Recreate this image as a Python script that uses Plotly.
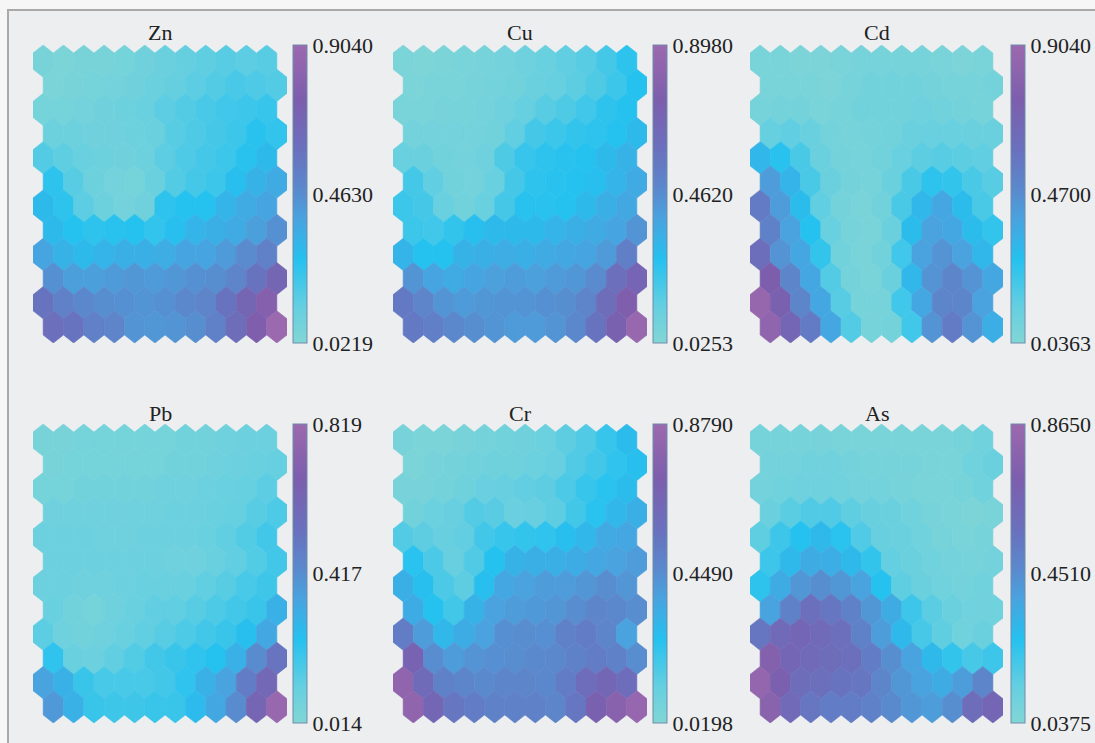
import plotly.graph_objects as go
from plotly.colors import sample_colorscale

W, H = 1095, 743

# ---------------- data (12 x 12 SOM component planes, top row first) ----------------
elements = ["Zn", "Cu", "Cd", "Pb", "Cr", "As"]
cbar_min = [0.0219, 0.0253, 0.0363, 0.014, 0.0198, 0.0375]
cbar_mid = [0.4630, 0.4620, 0.4700, 0.417, 0.4490, 0.4510]
cbar_max = [0.9040, 0.8980, 0.9040, 0.819, 0.8790, 0.8650]
tick_text = [["0.0219", "0.4630", "0.9040"],
             ["0.0253", "0.4620", "0.8980"],
             ["0.0363", "0.4700", "0.9040"],
             ["0.014", "0.417", "0.819"],
             ["0.0198", "0.4490", "0.8790"],
             ["0.0375", "0.4510", "0.8650"]]

zn = [
    [0.06, 0.05, 0.06, 0.06, 0.07, 0.09, 0.11, 0.13, 0.14, 0.16, 0.15, 0.16],
    [0.05, 0.06, 0.07, 0.08, 0.09, 0.11, 0.13, 0.15, 0.17, 0.19, 0.18, 0.17],
    [0.07, 0.07, 0.08, 0.09, 0.10, 0.12, 0.15, 0.17, 0.19, 0.21, 0.22, 0.23],
    [0.10, 0.10, 0.09, 0.09, 0.10, 0.11, 0.16, 0.18, 0.20, 0.22, 0.26, 0.24],
    [0.17, 0.14, 0.12, 0.10, 0.09, 0.10, 0.15, 0.18, 0.20, 0.22, 0.26, 0.30],
    [0.25, 0.16, 0.10, 0.08, 0.07, 0.11, 0.17, 0.20, 0.22, 0.28, 0.33, 0.36],
    [0.30, 0.25, 0.15, 0.10, 0.08, 0.09, 0.25, 0.27, 0.27, 0.32, 0.36, 0.38],
    [0.30, 0.27, 0.25, 0.26, 0.27, 0.24, 0.28, 0.32, 0.34, 0.36, 0.40, 0.45],
    [0.38, 0.33, 0.30, 0.32, 0.34, 0.34, 0.35, 0.38, 0.38, 0.42, 0.47, 0.52],
    [0.45, 0.40, 0.40, 0.42, 0.43, 0.42, 0.43, 0.45, 0.46, 0.50, 0.58, 0.68],
    [0.58, 0.52, 0.48, 0.46, 0.45, 0.44, 0.45, 0.48, 0.50, 0.58, 0.68, 0.78],
    [0.60, 0.58, 0.52, 0.50, 0.44, 0.43, 0.44, 0.46, 0.52, 0.62, 0.75, 0.90],
]
cu = [
    [0.05, 0.04, 0.05, 0.06, 0.07, 0.08, 0.10, 0.12, 0.14, 0.16, 0.20, 0.25],
    [0.05, 0.06, 0.06, 0.07, 0.08, 0.09, 0.11, 0.13, 0.15, 0.18, 0.22, 0.27],
    [0.06, 0.06, 0.07, 0.07, 0.08, 0.10, 0.13, 0.16, 0.18, 0.21, 0.25, 0.27],
    [0.08, 0.08, 0.08, 0.08, 0.09, 0.14, 0.20, 0.22, 0.24, 0.25, 0.27, 0.30],
    [0.12, 0.11, 0.09, 0.08, 0.10, 0.18, 0.23, 0.25, 0.26, 0.27, 0.30, 0.33],
    [0.20, 0.14, 0.09, 0.08, 0.12, 0.20, 0.25, 0.26, 0.27, 0.28, 0.32, 0.36],
    [0.22, 0.20, 0.12, 0.09, 0.12, 0.20, 0.26, 0.26, 0.27, 0.30, 0.34, 0.37],
    [0.22, 0.21, 0.24, 0.28, 0.30, 0.30, 0.30, 0.32, 0.34, 0.36, 0.38, 0.44],
    [0.32, 0.27, 0.27, 0.33, 0.34, 0.35, 0.34, 0.36, 0.37, 0.38, 0.42, 0.52],
    [0.44, 0.38, 0.36, 0.38, 0.40, 0.41, 0.40, 0.42, 0.43, 0.47, 0.60, 0.68],
    [0.55, 0.50, 0.44, 0.42, 0.43, 0.44, 0.44, 0.45, 0.46, 0.50, 0.62, 0.75],
    [0.55, 0.52, 0.48, 0.46, 0.44, 0.42, 0.42, 0.44, 0.48, 0.58, 0.72, 0.88],
]
cd = [
    [0.07, 0.07, 0.06, 0.06, 0.07, 0.08, 0.08, 0.08, 0.08, 0.07, 0.06, 0.07],
    [0.07, 0.07, 0.07, 0.06, 0.08, 0.10, 0.10, 0.10, 0.09, 0.08, 0.08, 0.09],
    [0.08, 0.09, 0.09, 0.07, 0.08, 0.10, 0.10, 0.10, 0.11, 0.10, 0.09, 0.08],
    [0.14, 0.15, 0.13, 0.09, 0.08, 0.09, 0.10, 0.12, 0.13, 0.13, 0.12, 0.12],
    [0.32, 0.27, 0.20, 0.12, 0.09, 0.08, 0.10, 0.13, 0.16, 0.17, 0.16, 0.15],
    [0.42, 0.33, 0.20, 0.12, 0.09, 0.08, 0.12, 0.20, 0.26, 0.25, 0.20, 0.17],
    [0.55, 0.42, 0.30, 0.15, 0.09, 0.07, 0.10, 0.20, 0.32, 0.38, 0.30, 0.20],
    [0.52, 0.40, 0.28, 0.13, 0.08, 0.07, 0.12, 0.30, 0.40, 0.38, 0.30, 0.25],
    [0.62, 0.45, 0.38, 0.25, 0.10, 0.07, 0.10, 0.22, 0.40, 0.45, 0.40, 0.32],
    [0.75, 0.50, 0.38, 0.18, 0.09, 0.07, 0.12, 0.32, 0.45, 0.50, 0.45, 0.38],
    [0.88, 0.72, 0.50, 0.38, 0.17, 0.08, 0.08, 0.22, 0.38, 0.50, 0.50, 0.40],
    [0.85, 0.68, 0.55, 0.38, 0.18, 0.08, 0.09, 0.22, 0.45, 0.55, 0.45, 0.35],
]
pb = [
    [0.05, 0.05, 0.06, 0.06, 0.06, 0.06, 0.06, 0.07, 0.07, 0.08, 0.09, 0.09],
    [0.05, 0.06, 0.06, 0.06, 0.06, 0.06, 0.07, 0.07, 0.08, 0.09, 0.10, 0.11],
    [0.06, 0.06, 0.07, 0.07, 0.07, 0.07, 0.08, 0.08, 0.09, 0.10, 0.11, 0.13],
    [0.08, 0.08, 0.08, 0.08, 0.08, 0.08, 0.09, 0.09, 0.10, 0.11, 0.14, 0.16],
    [0.09, 0.09, 0.09, 0.08, 0.08, 0.09, 0.09, 0.09, 0.10, 0.12, 0.15, 0.18],
    [0.09, 0.09, 0.09, 0.09, 0.09, 0.09, 0.08, 0.08, 0.10, 0.12, 0.15, 0.18],
    [0.09, 0.09, 0.08, 0.08, 0.09, 0.10, 0.10, 0.10, 0.12, 0.14, 0.17, 0.19],
    [0.10, 0.07, 0.06, 0.08, 0.10, 0.12, 0.12, 0.14, 0.16, 0.18, 0.20, 0.30],
    [0.13, 0.08, 0.07, 0.08, 0.10, 0.12, 0.14, 0.16, 0.18, 0.20, 0.25, 0.33],
    [0.22, 0.10, 0.09, 0.12, 0.15, 0.18, 0.20, 0.22, 0.24, 0.30, 0.42, 0.52],
    [0.35, 0.30, 0.20, 0.17, 0.17, 0.17, 0.18, 0.22, 0.30, 0.35, 0.48, 0.60],
    [0.38, 0.30, 0.20, 0.19, 0.19, 0.20, 0.20, 0.26, 0.33, 0.42, 0.62, 0.80],
]
cr = [
    [0.06, 0.05, 0.05, 0.06, 0.07, 0.08, 0.09, 0.10, 0.14, 0.17, 0.22, 0.28],
    [0.05, 0.06, 0.07, 0.08, 0.09, 0.09, 0.10, 0.12, 0.17, 0.20, 0.24, 0.27],
    [0.06, 0.06, 0.07, 0.09, 0.11, 0.12, 0.13, 0.14, 0.18, 0.22, 0.25, 0.28],
    [0.08, 0.10, 0.12, 0.16, 0.15, 0.11, 0.12, 0.14, 0.20, 0.25, 0.30, 0.33],
    [0.16, 0.14, 0.12, 0.13, 0.20, 0.22, 0.23, 0.24, 0.27, 0.30, 0.35, 0.36],
    [0.25, 0.18, 0.12, 0.17, 0.26, 0.32, 0.33, 0.33, 0.34, 0.36, 0.38, 0.40],
    [0.33, 0.27, 0.18, 0.14, 0.27, 0.36, 0.38, 0.40, 0.40, 0.42, 0.45, 0.42],
    [0.34, 0.26, 0.20, 0.32, 0.38, 0.40, 0.41, 0.42, 0.45, 0.48, 0.47, 0.45],
    [0.52, 0.40, 0.30, 0.34, 0.38, 0.44, 0.45, 0.44, 0.50, 0.52, 0.48, 0.38],
    [0.68, 0.45, 0.40, 0.43, 0.44, 0.45, 0.46, 0.47, 0.50, 0.52, 0.50, 0.45],
    [0.82, 0.62, 0.50, 0.48, 0.46, 0.48, 0.48, 0.47, 0.52, 0.60, 0.65, 0.60],
    [0.82, 0.65, 0.55, 0.52, 0.50, 0.50, 0.50, 0.48, 0.55, 0.70, 0.78, 0.85],
]
as_ = [
    [0.08, 0.08, 0.08, 0.08, 0.07, 0.07, 0.07, 0.07, 0.07, 0.07, 0.08, 0.10],
    [0.09, 0.09, 0.10, 0.10, 0.09, 0.08, 0.08, 0.08, 0.07, 0.07, 0.10, 0.12],
    [0.09, 0.10, 0.11, 0.11, 0.10, 0.09, 0.09, 0.08, 0.07, 0.07, 0.08, 0.10],
    [0.12, 0.16, 0.18, 0.18, 0.15, 0.13, 0.12, 0.10, 0.08, 0.07, 0.06, 0.07],
    [0.15, 0.22, 0.27, 0.30, 0.26, 0.18, 0.13, 0.12, 0.10, 0.08, 0.07, 0.08],
    [0.22, 0.30, 0.35, 0.34, 0.30, 0.24, 0.14, 0.12, 0.10, 0.09, 0.08, 0.09],
    [0.25, 0.35, 0.42, 0.45, 0.42, 0.38, 0.27, 0.15, 0.12, 0.10, 0.09, 0.10],
    [0.38, 0.50, 0.58, 0.55, 0.50, 0.42, 0.35, 0.22, 0.16, 0.12, 0.10, 0.10],
    [0.55, 0.62, 0.65, 0.62, 0.58, 0.50, 0.40, 0.30, 0.20, 0.15, 0.10, 0.12],
    [0.75, 0.65, 0.62, 0.60, 0.58, 0.52, 0.45, 0.38, 0.30, 0.24, 0.20, 0.22],
    [0.82, 0.70, 0.60, 0.58, 0.56, 0.55, 0.48, 0.42, 0.38, 0.35, 0.40, 0.48],
    [0.78, 0.62, 0.55, 0.52, 0.52, 0.50, 0.46, 0.42, 0.40, 0.45, 0.60, 0.65],
]
planes = [zn, cu, cd, pb, cr, as_]

# ---------------- style ----------------
colorscale = [
    [0.00, "#82d6d5"],
    [0.12, "#66cfe0"],
    [0.28, "#25c1ef"],
    [0.42, "#4aa2de"],
    [0.52, "#5b88cc"],
    [0.65, "#6a70bd"],
    [0.82, "#7d5ead"],
    [1.00, "#9c69ae"],
]
FONT = "Liberation Serif"

# pixel boxes of hex areas (left, right, top, bottom) and colorbar left x
hex_boxes = [(33, 287, 45, 343), (393, 647, 45, 343), (750, 1003, 45, 343),
             (33, 287, 424, 723), (393, 647, 424, 723), (750, 1003, 424, 723)]
cbar_x = [293, 653, 1011, 293, 653, 1011]
title_y = [32, 32, 32, 413, 413, 413]

fig = go.Figure()
shapes = [dict(type="rect", xref="paper", yref="paper", x0=8 / W, x1=1.02,
               y0=-0.02, y1=1 - 10 / H, fillcolor="#eceef0",
               line=dict(color="#a9a9a9", width=2), layer="below")]
annotations = []

NR, NC = 12, 12
for k, (name, data) in enumerate(zip(elements, planes)):
    ax = "" if k == 0 else str(k + 1)
    xl, xr, yt, yb = hex_boxes[k]
    fig.layout["xaxis" + ax] = dict(domain=[xl / W, xr / W], range=[-0.5, NC],
                                   visible=False, fixedrange=True,
                                   anchor="y" + ax)
    fig.layout["yaxis" + ax] = dict(domain=[1 - yb / H, 1 - yt / H],
                                   range=[NR - 1 + 2 / 3, -2 / 3],
                                   visible=False, fixedrange=True,
                                   anchor="x" + ax)
    vmin, vmax = cbar_min[k], cbar_max[k]
    for r in range(NR):
        for c in range(NC):
            v = data[r][c]
            t = min(1.0, max(0.0, (v - vmin) / (vmax - vmin)))
            col = sample_colorscale(colorscale, [t])[0]
            cx = c + 0.5 * (r % 2)
            cy = r
            pts = [(cx, cy - 2 / 3), (cx + 0.5, cy - 1 / 3), (cx + 0.5, cy + 1 / 3),
                   (cx, cy + 2 / 3), (cx - 0.5, cy + 1 / 3), (cx - 0.5, cy - 1 / 3)]
            path = "M " + " L ".join(f"{px:.4f},{py:.4f}" for px, py in pts) + " Z"
            shapes.append(dict(type="path", path=path, xref="x" + ax, yref="y" + ax,
                               fillcolor=col, line=dict(color=col, width=0.6),
                               layer="above"))
    # colorbar carrier trace
    fig.add_trace(go.Scatter(
        x=[None], y=[None], mode="markers", xaxis="x" + ax, yaxis="y" + ax,
        hoverinfo="skip", showlegend=False,
        marker=dict(color=[vmin, vmax], cmin=vmin, cmax=vmax,
                    colorscale=colorscale, showscale=True,
                    colorbar=dict(
                        x=cbar_x[k] / W, xanchor="left", xpad=0,
                        y=1 - yt / H, yanchor="top", ypad=0,
                        len=yb - yt, lenmode="pixels",
                        thickness=14, thicknessmode="pixels",
                        outlinewidth=1, outlinecolor="#6e8ca8",
                        tickvals=[cbar_min[k], cbar_mid[k], cbar_max[k]],
                        ticktext=tick_text[k], ticks="",
                        tickfont=dict(family=FONT, size=22, color="#222222"),
                    ))))
    annotations.append(dict(text=name, x=(xl + xr) / 2 / W, y=1 - title_y[k] / H,
                            xref="paper", yref="paper", showarrow=False,
                            xanchor="center", yanchor="middle",
                            font=dict(family=FONT, size=22, color="#222222")))

fig.update_layout(width=W, height=H, margin=dict(l=0, r=0, t=0, b=0),
                  paper_bgcolor="#f6f6f6", plot_bgcolor="rgba(0,0,0,0)",
                  shapes=shapes, annotations=annotations, showlegend=False)
fig.write_html("out.html", config={"displayModeBar": False},
               post_script="document.body.style.margin='0px';"
                           "document.body.style.overflow='hidden';")
